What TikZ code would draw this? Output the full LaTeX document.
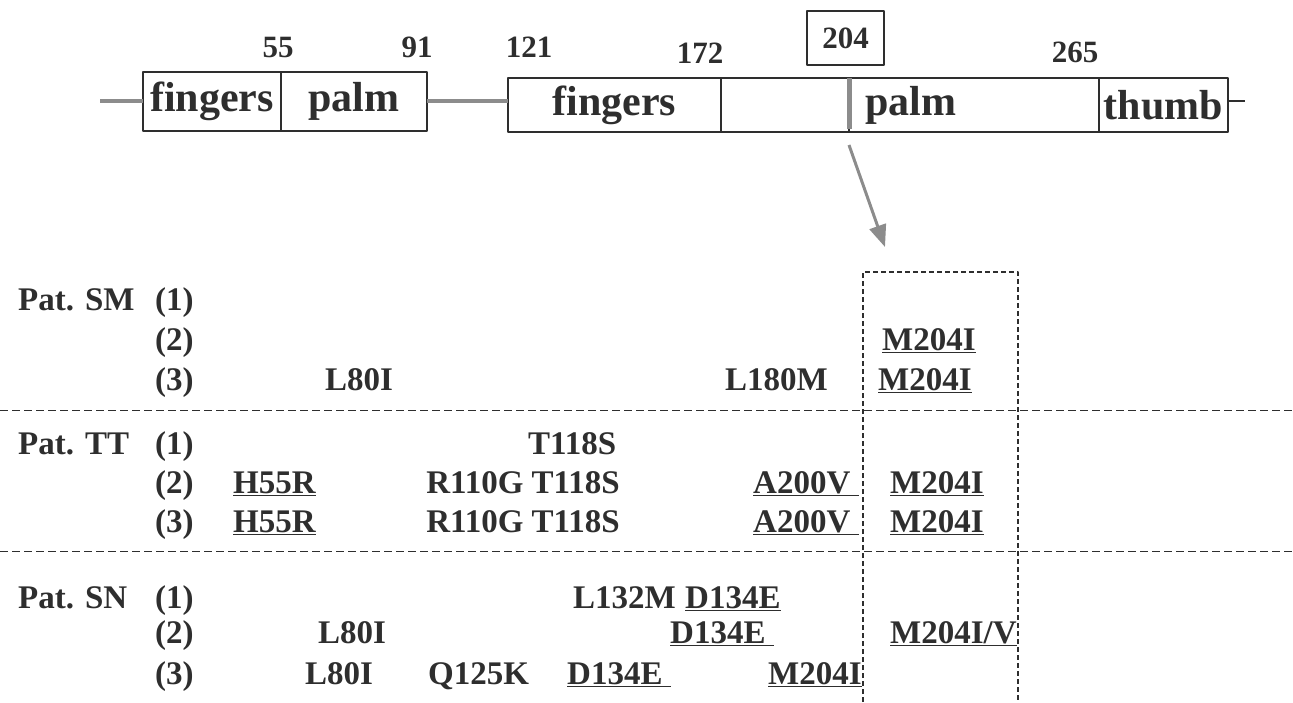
\documentclass[tikz,border=0pt]{standalone}
\usepackage{fontspec}
\setmainfont{Liberation Serif}
\usetikzlibrary{arrows.meta,calc}

\definecolor{inkgray}{gray}{0.18}
\definecolor{bargray}{gray}{0.55}

\begin{document}
\begin{tikzpicture}[
    x=1pt, y=-1pt,
    >=Stealth,
    line join=round,
    font=\bfseries,
    text=inkgray,
    segbox/.style={draw=inkgray, line width=1.3pt, inner sep=0pt, outer sep=0pt,
        font=\fontsize{42}{44}\selectfont\bfseries},
    posnum/.style={inner sep=0pt, font=\fontsize{31}{33}\selectfont\bfseries},
    linker/.style={draw=bargray, line width=4pt},
    mut/.style={inner sep=0pt, anchor=base west, font=\fontsize{33}{36}\selectfont\bfseries},
    mutR/.style={mut, anchor=base east},
    sep/.style={draw=inkgray, line width=1pt, dash pattern=on 8pt off 4pt},
    vsep/.style={draw=inkgray, line width=1.2pt, dash pattern=on 5pt off 3pt}
]
\useasboundingbox (0,0) rectangle (1293,702);

% ======================================
% 参数设置
% ======================================
\def\hA{59}      % 第一段高度
\def\hB{54}      % 第二段高度
\def\rowSM{310}  % Pat. SM 第一行基线
\def\rowTT{454}  % Pat. TT 第一行基线
\def\rowSN{608}  % Pat. SN 第一行基线
\def\dy{40}      % 行距

% ======================================
% 结构域示意条
% ======================================
\node[segbox, minimum width=138, minimum height=\hA] (fingersA) at (212,101.5) {fingers};
\node[segbox, minimum width=146, minimum height=\hA] (palmA) at (354,101.5) {palm};
\node[segbox, minimum width=213, minimum height=\hB] (fingersB) at (614.5,105) {fingers};
\node[segbox, minimum width=128, minimum height=\hB] (gapB) at (785,105) {};
\node[segbox, minimum width=250, minimum height=\hB] (palmB) at (974,105) {};
\node[segbox, anchor=west, draw=none] (palmBtxt) at ([xshift=16]palmB.west) {palm};
\node[segbox, minimum width=129, minimum height=\hB] (thumb) at (1163.5,105) {thumb};

% 连接线
\coordinate (tailL) at (100,101);
\coordinate (tailR) at (1245,101);
\draw[linker] (tailL) -- (fingersA.west |- tailL);
\draw[linker] (palmA.east |- tailL) -- (fingersB.west |- tailL);
\draw[draw=inkgray, line width=2pt] (thumb.east |- tailL) -- (tailR);

% 204 位置标记
\draw[draw=bargray, line width=5pt] (palmB.north west) -- ([yshift=3]palmB.south west);

% ======================================
% 位置编号
% ======================================
\node[posnum] (n55) at (278,47) {55};
\node[posnum] (n91) at (417,47) {91};
\node[posnum] (n121) at (529,47) {121};
\node[posnum] (n172) at (700,53) {172};
\node[posnum, draw=inkgray, line width=1.3pt, minimum width=77, minimum height=54] (n204) at (845.5,38) {204};
\node[posnum] (n265) at (1075,52) {265};

% ======================================
% 箭头与虚线框
% ======================================
\coordinate (arrowTail) at (849,145);
\coordinate (arrowTip) at (885,247);
\draw[draw=bargray, line width=3pt, -{Triangle[length=22pt,width=17pt]}] (arrowTail) -- (arrowTip);

\coordinate (boxBL) at (863,702);
\coordinate (boxTL) at (863,272);
\coordinate (boxTR) at (1018,272);
\coordinate (boxBR) at (1018,702);
\draw[vsep] (boxBL) -- (boxTL) -- (boxTR) -- (boxBR);

% 分隔虚线
\draw[sep] (0,410) -- (1293,410);
\draw[sep] (0,551) -- (1293,551);

% ======================================
% Pat. SM
% ======================================
\node[mut] (SM) at (18,\rowSM) {Pat. SM};
\node[mut] (SM1) at (155,\rowSM) {(1)};
\node[mut] (SM2) at (155,\rowSM+\dy) {(2)};
\node[mut] (SM2a) at (882,\rowSM+\dy) {\underline{M204I}};
\node[mut] (SM3) at (155,\rowSM+2*\dy) {(3)};
\node[mut] (SM3a) at (325,\rowSM+2*\dy) {L80I};
\node[mut] (SM3b) at (725,\rowSM+2*\dy) {L180M};
\node[mut] (SM3c) at (878,\rowSM+2*\dy) {\underline{M204I}};

% ======================================
% Pat. TT
% ======================================
\node[mut] (TT) at (18,\rowTT) {Pat. TT};
\node[mut] (TT1) at (155,\rowTT) {(1)};
\node[mut] (TT1a) at (528,\rowTT) {T118S};
\foreach \k in {2,3}{
    \pgfmathsetmacro{\yy}{\rowTT+(\k-1)*39}
    \node[mut] (TT\k) at (155,\yy) {(\k)};
    \node[mut] (TT\k-a) at (233,\yy) {\underline{H55R}};
    \node[mutR] (TT\k-b) at (620,\yy) {R110G T118S};
    \node[mut] (TT\k-c) at (753,\yy) {\underline{A200V\ }};
    \node[mut] (TT\k-d) at (890,\yy) {\underline{M204I}};
}

% ======================================
% Pat. SN
% ======================================
\node[mut] (SN) at (18,\rowSN) {Pat. SN};
\node[mut] (SN1) at (155,\rowSN) {(1)};
\node[mut] (SN1a) at (573,\rowSN) {L132M};
\node[mut] (SN1b) at (685,\rowSN) {\underline{D134E}};
\node[mut] (SN2) at (155,\rowSN+35) {(2)};
\node[mut] (SN2a) at (318,\rowSN+35) {L80I};
\node[mut] (SN2b) at (670,\rowSN+35) {\underline{D134E\ }};
\node[mut] (SN2c) at (890,\rowSN+35) {\underline{M204I/V}};
\node[mut] (SN3) at (155,\rowSN+76) {(3)};
\node[mut] (SN3a) at (305,\rowSN+76) {L80I};
\node[mut] (SN3b) at (428,\rowSN+76) {Q125K};
\node[mut] (SN3c) at (567,\rowSN+76) {\underline{D134E\ }};
\node[mut] (SN3d) at (768,\rowSN+76) {\underline{M204I}};

\end{tikzpicture}
\end{document}
